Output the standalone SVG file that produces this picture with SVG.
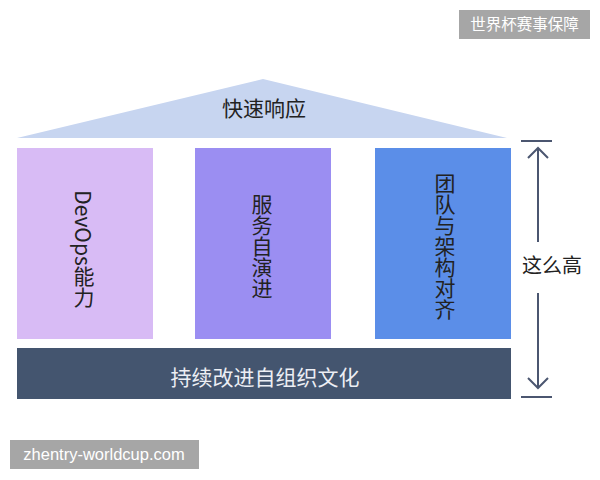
<svg xmlns="http://www.w3.org/2000/svg" width="600" height="480" viewBox="0 0 600 480">
<style>
.cjk{font-family:"Noto Sans CJK SC","Noto Sans",sans-serif;}
.lbl{font-size:21px;fill:#222;text-anchor:middle;}
.vert{writing-mode:vertical-rl;}
.dim{stroke:#4b5670;stroke-width:2;fill:none;}
.wm{fill:#a6a6a6;}
.wmt{fill:#fff;}
</style>
<rect width="600" height="480" fill="#fff"/>
<g id="roof">
<polygon points="17,138 263,79 507,138" fill="#c7d5f0"/>
<text class="cjk lbl" x="264" y="116">快速响应</text>
</g>
<g id="col-devops">
<rect x="17" y="148" width="136" height="191" fill="#d8bbf5"/>
<text class="cjk lbl vert" x="84" y="249" dominant-baseline="central">DevOps能力</text>
</g>
<g id="col-service">
<rect x="195" y="148" width="136" height="191" fill="#9b8ef2"/>
<text class="cjk lbl vert" x="262" y="246">服务自演进</text>
</g>
<g id="col-team">
<rect x="375" y="148" width="136" height="191" fill="#5b8ee8"/>
<text class="cjk lbl vert" x="445" y="246">团队与架构对齐</text>
</g>
<g id="base">
<rect x="17" y="348" width="494" height="51" fill="#44556f"/>
<text class="cjk" x="265" y="385" font-size="21" fill="#eceef4" text-anchor="middle">持续改进自组织文化</text>
</g>
<g id="connectors">
<line class="dim" x1="521" y1="141" x2="552" y2="141"/>
<line class="dim" x1="521" y1="397" x2="552" y2="397"/>
<line class="dim" x1="538" y1="148" x2="538" y2="242"/>
<polyline class="dim" points="528,158 538,148 548,158"/>
<line class="dim" x1="538" y1="293" x2="538" y2="388"/>
<polyline class="dim" points="528,378 538,388 548,378"/>
</g>
<g id="dim-label">
<text class="cjk" x="552" y="273" font-size="20" fill="#222" text-anchor="middle">这么高</text>
</g>
<g id="watermark-top">
<rect class="wm" x="459" y="10" width="131" height="29"/>
<text class="cjk wmt" x="524.5" y="30" font-size="15.5" text-anchor="middle">世界杯赛事保障</text>
</g>
<g id="watermark-bottom">
<rect class="wm" x="10" y="440" width="189" height="29"/>
<text class="wmt" x="104" y="460" font-family="Liberation Sans, Arial, sans-serif" font-size="16.5" text-anchor="middle">zhentry-worldcup.com</text>
</g>
</svg>
